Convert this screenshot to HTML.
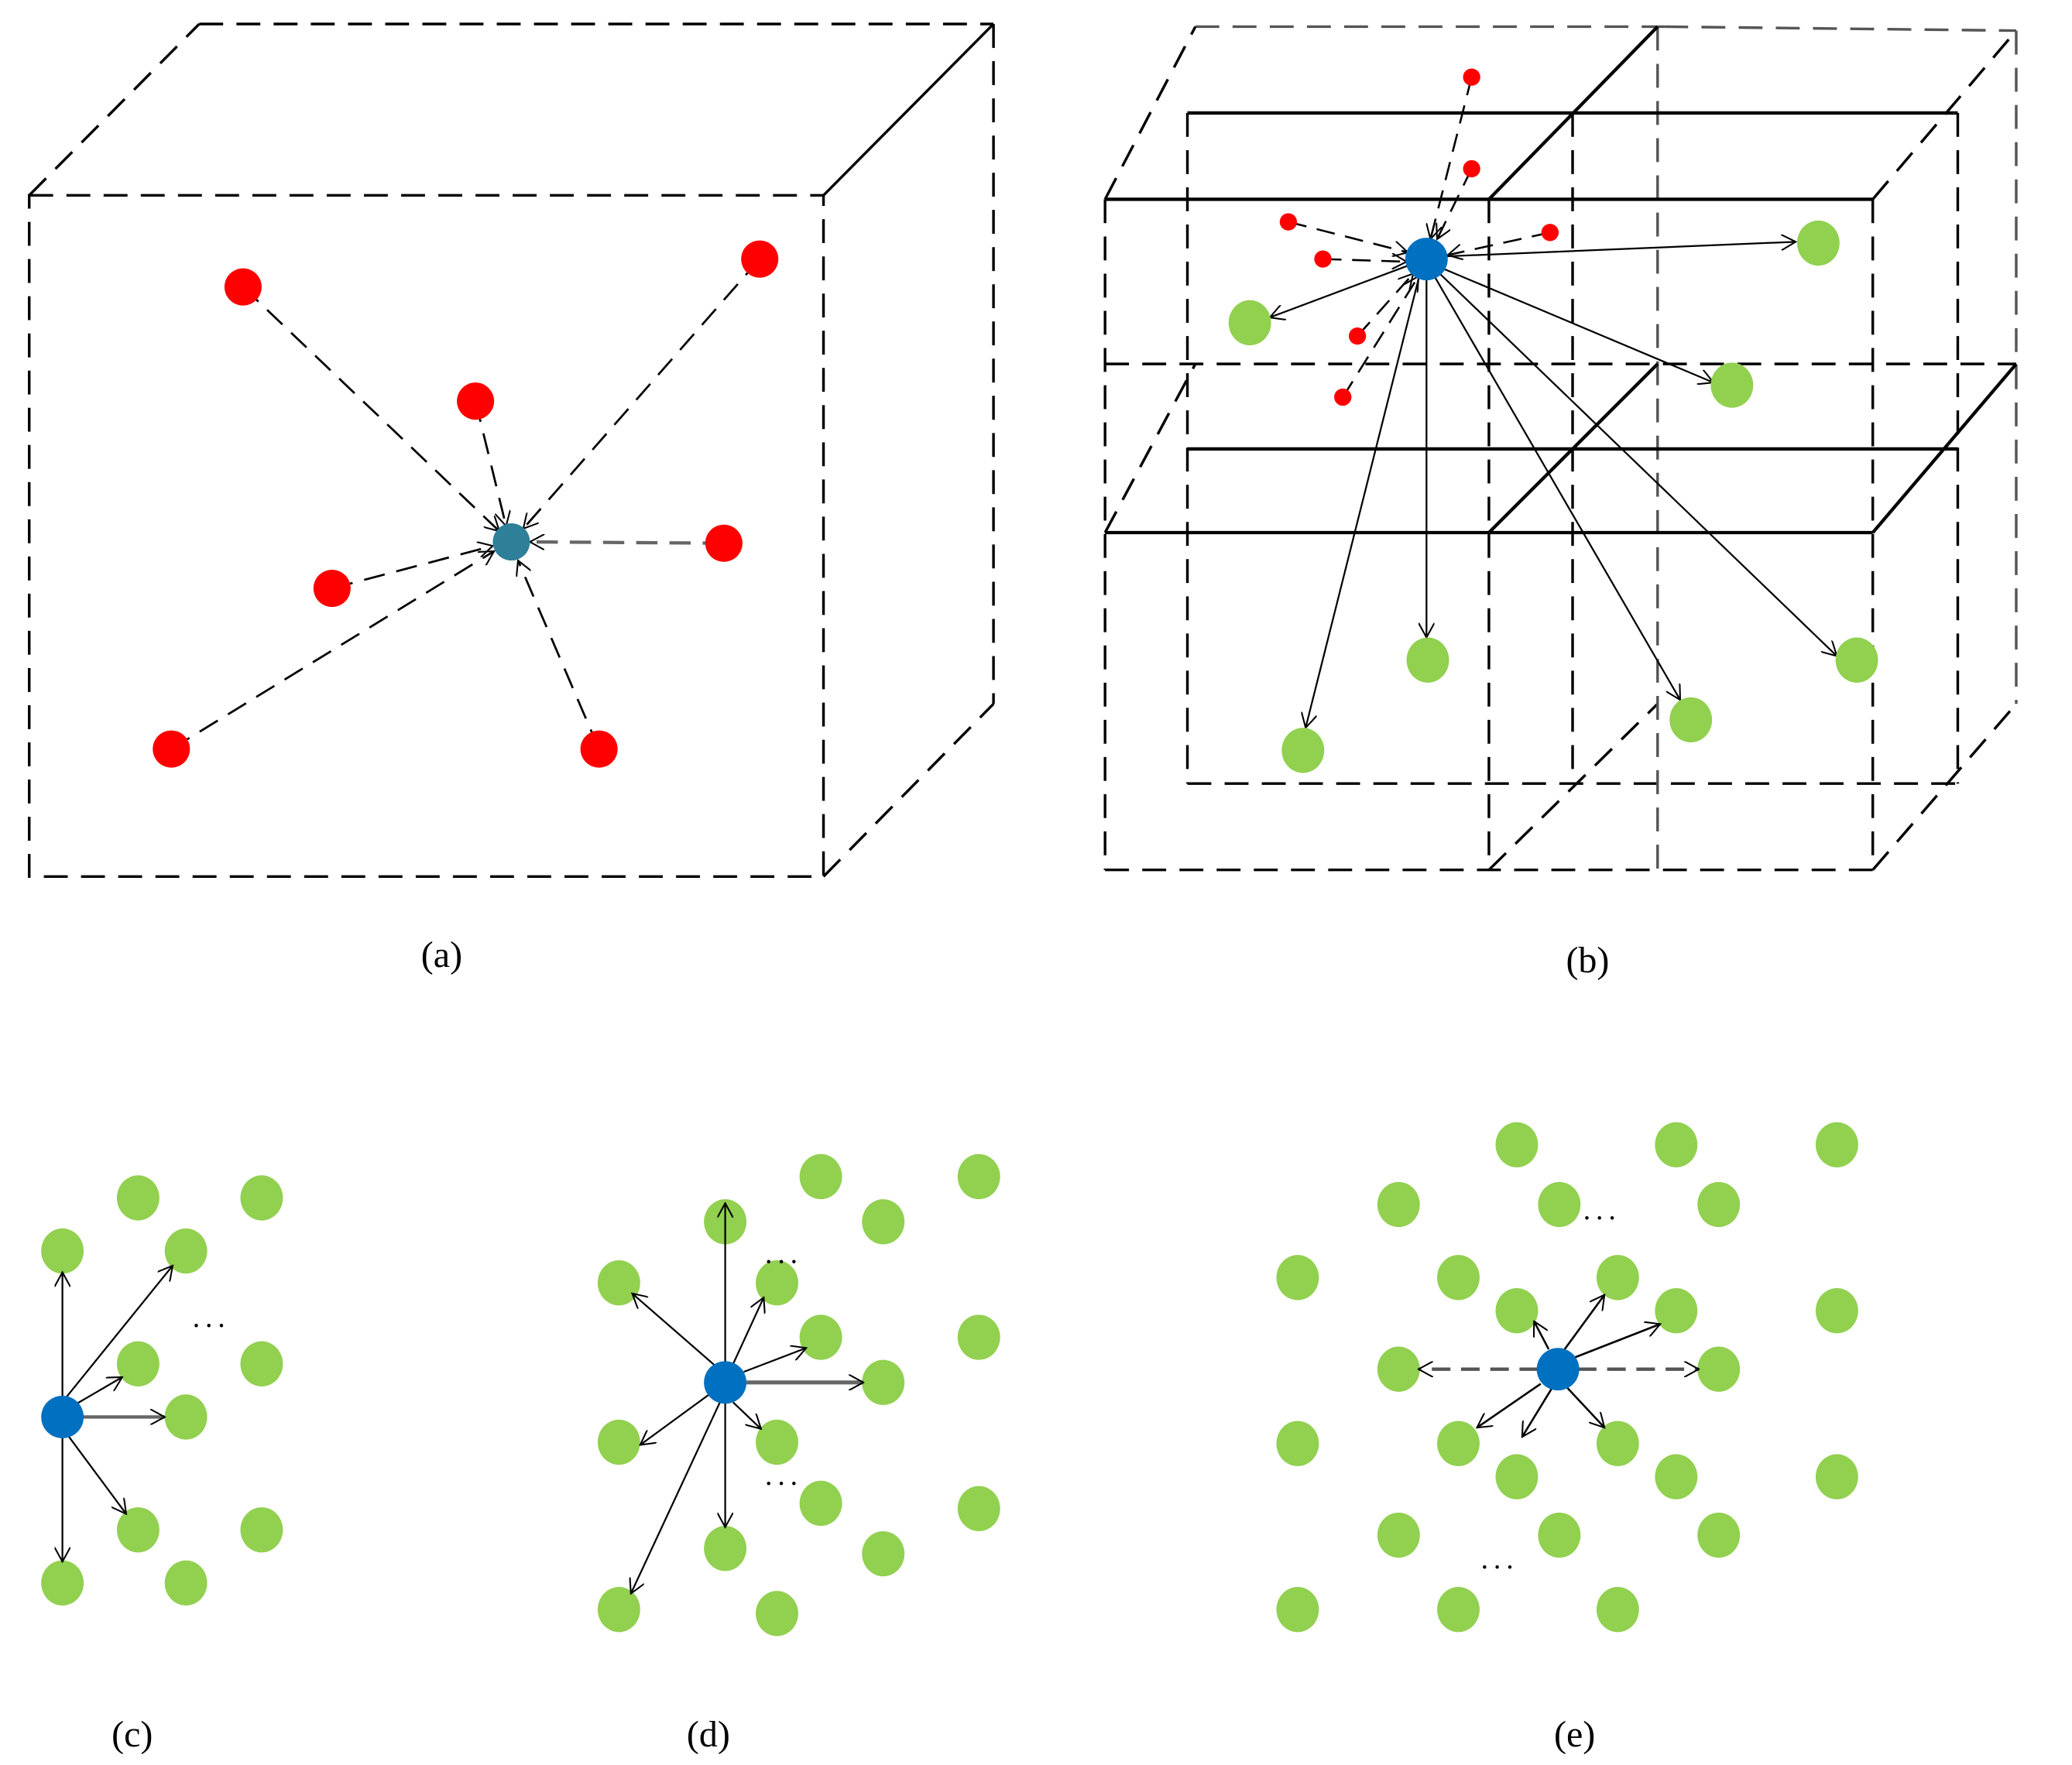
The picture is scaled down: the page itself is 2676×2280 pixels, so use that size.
<!DOCTYPE html>
<html><head><meta charset="utf-8"><style>
html,body{margin:0;padding:0;background:#fff;}
svg{display:block;}
text{font-family:"Liberation Serif",serif;font-size:28px;fill:#000;}
</style></head><body>
<svg width="2676" height="2280" viewBox="0 0 1560 1329" xmlns="http://www.w3.org/2000/svg">
<defs>
<marker id="ar" viewBox="0 0 12 12" refX="11" refY="6" markerWidth="12" markerHeight="12" markerUnits="userSpaceOnUse" orient="auto">
<path d="M0,0 L11,6 L0,12" fill="none" stroke="#000" stroke-width="1.2"/></marker>
</defs>
<rect width="1560" height="1329" fill="#fff"/>

<!-- Panel a -->
<g fill="none" stroke="#000" stroke-width="2" stroke-dasharray="18,10">
<rect x="22" y="147" width="598" height="513"/>
<line x1="150" y1="18" x2="748" y2="18"/>
<line x1="748" y1="18" x2="748" y2="530"/>
<line x1="22" y1="147" x2="150" y2="18"/>
<line x1="620" y1="660" x2="748" y2="530"/>
</g>
<line x1="620" y1="147" x2="748" y2="18" stroke="#000" stroke-width="2"/>
<g stroke="#000" stroke-width="1.6" stroke-dasharray="16,9" fill="none" marker-end="url(#ar)">
<line x1="183" y1="216" x2="376" y2="400"/>
<line x1="572" y1="195" x2="394" y2="398"/>
<line x1="358" y1="302" x2="381" y2="396"/>
<line x1="545" y1="409" x2="399" y2="408" stroke="#666" stroke-width="2.5"/>
<line x1="250" y1="443" x2="371" y2="411"/>
<line x1="129" y1="564" x2="372" y2="415"/>
<line x1="451" y1="564" x2="390" y2="422"/>
</g>
<g fill="#ff0000">
<circle cx="183" cy="216" r="14"/><circle cx="572" cy="195" r="14"/><circle cx="358" cy="302" r="14"/>
<circle cx="545" cy="409" r="14"/><circle cx="250" cy="443" r="14"/><circle cx="129" cy="564" r="14"/><circle cx="451" cy="564" r="14"/>
</g>
<circle cx="385" cy="408" r="14" fill="#2e7f98"/>
<text x="317" y="728">(a)</text>

<!-- Panel b -->
<g fill="none" stroke="#000" stroke-width="2" stroke-dasharray="18,10">
<line x1="900" y1="20" x2="1253" y2="20" stroke="#555"/>
<line x1="1253" y1="20" x2="1518" y2="23" stroke="#555"/>
<line x1="832" y1="150" x2="900" y2="20"/>
<line x1="1410" y1="150" x2="1518" y2="23"/>
<line x1="832" y1="274" x2="1518" y2="274"/>
<line x1="832" y1="401" x2="900" y2="274"/>
<line x1="894" y1="590" x2="1474" y2="590"/>
<line x1="832" y1="655" x2="1410" y2="655"/>
<line x1="1121" y1="655" x2="1248" y2="530"/>
<line x1="1410" y1="655" x2="1518" y2="530"/>
<line x1="832" y1="150" x2="832" y2="655"/>
<line x1="894" y1="85" x2="894" y2="590"/>
<line x1="1121" y1="150" x2="1121" y2="655"/>
<line x1="1184" y1="85" x2="1184" y2="590"/>
<line x1="1248" y1="20" x2="1248" y2="655" stroke="#555"/>
<line x1="1410" y1="150" x2="1410" y2="655"/>
<line x1="1474" y1="85" x2="1474" y2="590"/>
<line x1="1518" y1="23" x2="1518" y2="530" stroke="#555"/>
</g>
<g fill="none" stroke="#000" stroke-width="2.5">
<line x1="894" y1="85" x2="1474" y2="85"/>
<line x1="832" y1="150" x2="1410" y2="150"/>
<line x1="1121" y1="150" x2="1248" y2="20"/>
<line x1="894" y1="338" x2="1474" y2="338"/>
<line x1="832" y1="401" x2="1410" y2="401"/>
<line x1="1121" y1="401" x2="1248" y2="274"/>
<line x1="1410" y1="401" x2="1518" y2="274"/>
</g>
<g stroke="#000" stroke-width="1.5" stroke-dasharray="14,8" fill="none" marker-end="url(#ar)">
<line x1="1108" y1="58" x2="1077" y2="180"/>
<line x1="1108" y1="127" x2="1082" y2="180"/>
<line x1="970" y1="167" x2="1060" y2="190"/>
<line x1="996" y1="195" x2="1059" y2="197"/>
<line x1="1167" y1="175" x2="1090" y2="192"/>
<line x1="1022" y1="253" x2="1064" y2="206"/>
<line x1="1011" y1="299" x2="1068" y2="208"/>
</g>
<g stroke="#000" stroke-width="1.3" fill="none" marker-end="url(#ar)">
<line x1="1088" y1="193" x2="1352" y2="182"/>
<line x1="1060" y1="200" x2="956" y2="239"/>
<line x1="1086" y1="202" x2="1290" y2="288"/>
<line x1="1074" y1="210" x2="1074" y2="480"/>
<line x1="1068" y1="210" x2="983" y2="548"/>
<line x1="1080" y1="208" x2="1265" y2="527"/>
<line x1="1084" y1="206" x2="1383" y2="494"/>
</g>
<g fill="#ff0000">
<circle cx="1108" cy="58" r="6.5"/><circle cx="1108" cy="127" r="6.5"/><circle cx="970" cy="167" r="6.5"/>
<circle cx="996" cy="195" r="6.5"/><circle cx="1167" cy="175" r="6.5"/><circle cx="1022" cy="253" r="6.5"/><circle cx="1011" cy="299" r="6.5"/>
</g>
<g fill="#92d050">
<ellipse cx="1369" cy="183" rx="16" ry="17"/><ellipse cx="941" cy="243" rx="16" ry="17"/><ellipse cx="1304" cy="290" rx="16" ry="17"/>
<ellipse cx="1075" cy="497" rx="16" ry="17"/><ellipse cx="981" cy="565" rx="16" ry="17"/><ellipse cx="1273" cy="542" rx="16" ry="17"/><ellipse cx="1398" cy="497" rx="16" ry="17"/>
</g>
<circle cx="1074" cy="195" r="16" fill="#0070c0"/>
<text x="1179" y="732">(b)</text>

<!-- Panel c -->
<g fill="#92d050">
<ellipse cx="104" cy="902" rx="16" ry="17"/><ellipse cx="197" cy="902" rx="16" ry="17"/>
<ellipse cx="47" cy="942" rx="16" ry="17"/><ellipse cx="140" cy="942" rx="16" ry="17"/>
<ellipse cx="104" cy="1027" rx="16" ry="17"/><ellipse cx="197" cy="1027" rx="16" ry="17"/>
<ellipse cx="140" cy="1067" rx="16" ry="17"/>
<ellipse cx="104" cy="1152" rx="16" ry="17"/><ellipse cx="197" cy="1152" rx="16" ry="17"/>
<ellipse cx="47" cy="1192" rx="16" ry="17"/><ellipse cx="140" cy="1192" rx="16" ry="17"/>
</g>
<g stroke="#000" stroke-width="1.3" fill="none" marker-end="url(#ar)">
<line x1="47" y1="1052" x2="47" y2="958"/>
<line x1="50" y1="1052" x2="130" y2="953"/>
<line x1="56" y1="1058" x2="92" y2="1037"/>
<line x1="62" y1="1067" x2="124" y2="1067" stroke="#666" stroke-width="2.5"/>
<line x1="52" y1="1082" x2="95" y2="1140"/>
<line x1="47" y1="1082" x2="47" y2="1176"/>
</g>
<circle cx="47" cy="1067" r="16" fill="#0070c0"/>
<text x="145" y="999" style="font-size:22px;letter-spacing:4px">...</text>
<text x="84" y="1315">(c)</text>

<!-- Panel d -->
<g fill="#92d050">
<ellipse cx="618" cy="886" rx="16" ry="17"/><ellipse cx="737" cy="886" rx="16" ry="17"/>
<ellipse cx="546" cy="920" rx="16" ry="17"/><ellipse cx="665" cy="920" rx="16" ry="17"/>
<ellipse cx="466" cy="966" rx="16" ry="17"/><ellipse cx="585" cy="966" rx="16" ry="17"/>
<ellipse cx="618" cy="1007" rx="16" ry="17"/><ellipse cx="737" cy="1007" rx="16" ry="17"/>
<ellipse cx="665" cy="1041" rx="16" ry="17"/>
<ellipse cx="466" cy="1086" rx="16" ry="17"/><ellipse cx="585" cy="1086" rx="16" ry="17"/>
<ellipse cx="618" cy="1132" rx="16" ry="17"/><ellipse cx="737" cy="1136" rx="16" ry="17"/>
<ellipse cx="546" cy="1166" rx="16" ry="17"/><ellipse cx="665" cy="1170" rx="16" ry="17"/>
<ellipse cx="466" cy="1212" rx="16" ry="17"/><ellipse cx="585" cy="1215" rx="16" ry="17"/>
</g>
<g stroke="#000" stroke-width="1.3" fill="none" marker-end="url(#ar)">
<line x1="546" y1="1026" x2="546" y2="906"/>
<line x1="538" y1="1028" x2="476" y2="974"/>
<line x1="552" y1="1027" x2="575" y2="977"/>
<line x1="560" y1="1033" x2="607" y2="1015"/>
<line x1="562" y1="1041" x2="650" y2="1041" stroke="#666" stroke-width="3"/>
<line x1="534" y1="1050" x2="482" y2="1088"/>
<line x1="552" y1="1056" x2="573" y2="1076"/>
<line x1="546" y1="1056" x2="546" y2="1150"/>
<line x1="542" y1="1056" x2="475" y2="1200"/>
</g>
<circle cx="546" cy="1041" r="16" fill="#0070c0"/>
<text x="576" y="951" style="font-size:22px;letter-spacing:4px">...</text>
<text x="576" y="1118" style="font-size:22px;letter-spacing:4px">...</text>
<text x="517" y="1315">(d)</text>

<!-- Panel e -->
<g fill="#92d050">
<ellipse cx="1142" cy="862" rx="16" ry="17"/><ellipse cx="1262" cy="862" rx="16" ry="17"/><ellipse cx="1383" cy="862" rx="16" ry="17"/>
<ellipse cx="1053" cy="907" rx="16" ry="17"/><ellipse cx="1174" cy="907" rx="16" ry="17"/><ellipse cx="1294" cy="907" rx="16" ry="17"/>
<ellipse cx="977" cy="962" rx="16" ry="17"/><ellipse cx="1098" cy="962" rx="16" ry="17"/><ellipse cx="1218" cy="962" rx="16" ry="17"/>
<ellipse cx="1142" cy="987" rx="16" ry="17"/><ellipse cx="1262" cy="987" rx="16" ry="17"/><ellipse cx="1383" cy="987" rx="16" ry="17"/>
<ellipse cx="1053" cy="1031" rx="16" ry="17"/><ellipse cx="1294" cy="1031" rx="16" ry="17"/>
<ellipse cx="977" cy="1087" rx="16" ry="17"/><ellipse cx="1098" cy="1087" rx="16" ry="17"/><ellipse cx="1218" cy="1087" rx="16" ry="17"/>
<ellipse cx="1142" cy="1112" rx="16" ry="17"/><ellipse cx="1262" cy="1112" rx="16" ry="17"/><ellipse cx="1383" cy="1112" rx="16" ry="17"/>
<ellipse cx="1053" cy="1156" rx="16" ry="17"/><ellipse cx="1174" cy="1156" rx="16" ry="17"/><ellipse cx="1294" cy="1156" rx="16" ry="17"/>
<ellipse cx="977" cy="1212" rx="16" ry="17"/><ellipse cx="1098" cy="1212" rx="16" ry="17"/><ellipse cx="1218" cy="1212" rx="16" ry="17"/>
</g>
<g stroke="#000" stroke-width="1.5" fill="none" marker-end="url(#ar)">
<line x1="1158" y1="1031" x2="1068" y2="1031" stroke="#555" stroke-width="2.5" stroke-dasharray="14,8"/>
<line x1="1188" y1="1031" x2="1279" y2="1031" stroke="#555" stroke-width="2.5" stroke-dasharray="14,8"/>
<line x1="1166" y1="1016" x2="1155" y2="995"/>
<line x1="1178" y1="1016" x2="1208" y2="975"/>
<line x1="1186" y1="1022" x2="1250" y2="997"/>
<line x1="1160" y1="1042" x2="1112" y2="1075"/>
<line x1="1168" y1="1046" x2="1146" y2="1082"/>
<line x1="1180" y1="1045" x2="1208" y2="1075"/>
</g>
<circle cx="1173" cy="1031" r="16" fill="#0070c0"/>
<text x="1192" y="918" style="font-size:22px;letter-spacing:4px">...</text>
<text x="1115" y="1181" style="font-size:22px;letter-spacing:4px">...</text>
<text x="1170" y="1315">(e)</text>
</svg>
</body></html>
